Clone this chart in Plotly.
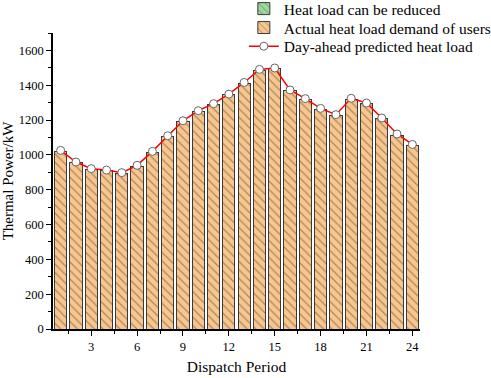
import plotly.graph_objects as go

periods = list(range(1, 25))
predicted = [1026, 959, 921, 913, 898, 940, 1020, 1110, 1196, 1254, 1294, 1349,
             1416, 1491, 1499, 1373, 1323, 1267, 1231, 1325, 1298, 1212, 1120, 1060]
actual = [1022, 955, 918, 910, 894, 936, 1016, 1105, 1190, 1248, 1290, 1344,
          1410, 1486, 1494, 1368, 1318, 1262, 1228, 1320, 1293, 1207, 1114, 1055]
reducible = [0] * 24
x_ticks = [3, 6, 9, 12, 15, 18, 21, 24]
x_minor = [1.5, 4.5, 7.5, 10.5, 13.5, 16.5, 19.5, 22.5]

serif = "Liberation Serif, Times New Roman, serif"

fig = go.Figure()
fig.add_trace(go.Bar(
    x=periods, y=reducible, name="Heat load can be reduced", legend="legend",
    marker=dict(color="#9ED69E", line=dict(color="#3a3a3a", width=1),
                pattern=dict(shape="\\", fgcolor="#3a5a3a", bgcolor="#9ED69E",
                             size=6, solidity=0.2)),
))
fig.add_trace(go.Bar(
    x=periods, y=actual, name="Actual heat load demand of users", legend="legend2",
    marker=dict(color="#F9C68E", line=dict(color="#3a3a3a", width=1),
                pattern=dict(shape="\\", fgcolor="#5a4632", bgcolor="#F9C68E",
                             size=6, solidity=0.2)),
))
fig.add_trace(go.Scatter(
    x=periods, y=predicted, name="Day-ahead predicted heat load", legend="legend3",
    mode="lines+markers",
    line=dict(color="#FF0000", width=1.5),
    marker=dict(symbol="circle", size=8, color="white",
                line=dict(color="#666666", width=1)),
))

leg_common = dict(x=0.52, xanchor="left", yanchor="middle",
                  bgcolor="rgba(0,0,0,0)", font=dict(family=serif, size=15.5),
                  borderwidth=0)

fig.update_layout(
    width=491, height=378,
    margin=dict(l=53, r=71, t=33, b=49, autoexpand=False),
    paper_bgcolor="white", plot_bgcolor="white",
    barmode="stack", bargap=0.2,
    font=dict(family=serif, color="black", size=13),
    showlegend=True,
    legend=dict(y=1.081, **leg_common),
    legend2=dict(y=1.017, **leg_common),
    legend3=dict(y=0.954, **leg_common),
)
fig.update_xaxes(
    range=[0.5, 24.5], tickvals=x_ticks,
    ticks="outside", ticklen=5, tickwidth=1, tickcolor="black",
    showline=True, linecolor="black", linewidth=1.5, showgrid=False, zeroline=False,
    minor=dict(tickvals=x_minor, ticks="outside", ticklen=3, tickcolor="black",
               showgrid=False),
    title=dict(text="Dispatch Period", font=dict(family=serif, size=15.5), standoff=8),
    tickfont=dict(family=serif, size=12.5), automargin=False,
)
fig.update_yaxes(
    range=[0, 1700], dtick=200, tick0=0,
    ticks="outside", ticklen=5, tickwidth=1, tickcolor="black",
    showline=True, linecolor="black", linewidth=1.5, showgrid=False, zeroline=False,
    minor=dict(dtick=100, ticks="outside", ticklen=3, tickcolor="black", showgrid=False),
    title=dict(text="Thermal Power/kW", font=dict(family=serif, size=15), standoff=4),
    tickfont=dict(family=serif, size=12.5), automargin=False,
)

fig.write_html("out.html", config={"displayModeBar": False},
               post_script="document.body.style.margin='0px';")
